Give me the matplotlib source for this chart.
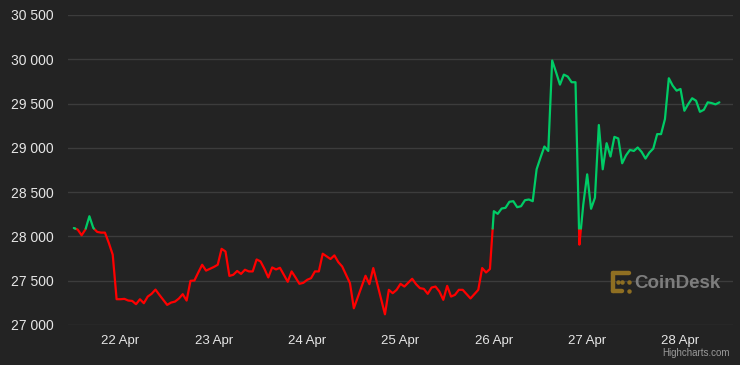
import numpy as np
import matplotlib
matplotlib.use("Agg")
import matplotlib.pyplot as plt

# ---- data (hours since 21 Apr 12:00, BTC price in USD) ----
hours = [0, 1, 2, 3, 4, 5, 6, 7, 8, 9, 10, 11, 12, 13, 14, 15, 16, 17, 18, 19,
         20, 21, 22, 24, 25, 26, 27, 28, 29, 30, 31, 32, 33, 34, 35, 36, 37, 38,
         39, 40, 41, 42, 43, 44, 45, 46, 47, 48, 49, 50, 51, 52, 53, 54, 55, 56,
         57, 58, 59, 60, 61, 62, 63, 64, 65, 66, 67, 68, 69, 70, 71, 72, 75, 76,
         77, 80, 81, 82, 83, 84, 85, 87, 88, 89, 90, 91, 92, 93, 94, 95, 96, 97,
         98, 99, 100, 101, 102, 104, 105, 106, 107, 108, 109, 110, 111, 112, 113,
         114, 115, 116, 117, 118, 119, 120, 121, 122, 123, 124, 125, 126, 127,
         128, 129, 130, 131, 132, 133, 134, 135, 136, 137, 138, 139, 140, 141,
         142, 143, 144, 145, 146, 147, 148, 149, 150, 151, 152, 153, 154, 155,
         156, 157, 158, 159, 160, 161, 162, 163, 164, 165, 166]
prices = [28095, 28077, 28013, 28080, 28228, 28096, 28051, 28043, 28043, 27926,
          27794, 27291, 27291, 27295, 27276, 27272, 27235, 27291, 27246, 27321,
          27352, 27400, 27340, 27227, 27253, 27264, 27298, 27348, 27276, 27499,
          27502, 27593, 27680, 27614, 27635, 27655, 27680, 27860, 27830, 27554,
          27567, 27610, 27577, 27624, 27605, 27605, 27740, 27718, 27635, 27537,
          27650, 27627, 27646, 27567, 27488, 27605, 27537, 27465, 27476, 27510,
          27529, 27605, 27605, 27805, 27775, 27745, 27786, 27710, 27661, 27567,
          27473, 27189, 27556, 27461, 27643, 27121, 27397, 27359, 27397, 27465,
          27434, 27522, 27461, 27416, 27408, 27352, 27423, 27434, 27378, 27284,
          27442, 27321, 27340, 27397, 27397, 27348, 27300, 27397, 27643, 27593,
          27632, 28285, 28255, 28315, 28323, 28391, 28398, 28330, 28341, 28409,
          28417, 28398, 28758, 28890, 29015, 28965, 29986, 29854, 29714, 29827,
          29805, 29741, 29741, 27907, 28361, 28701, 28312, 28437, 29258, 28758,
          29053, 28902, 29124, 29106, 28826, 28916, 28977, 28965, 29004, 28954,
          28879, 28947, 28992, 29155, 29155, 29325, 29786, 29702, 29646, 29665,
          29419, 29495, 29560, 29532, 29407, 29430, 29514, 29506, 29491, 29514]
threshold = 28088
day_labels = ["22 Apr", "23 Apr", "24 Apr", "25 Apr", "26 Apr", "27 Apr", "28 Apr"]
day_hours = [12, 36, 60, 84, 108, 132, 156]
y_ticks = [27000, 27500, 28000, 28500, 29000, 29500, 30000, 30500]

# ---- split line at threshold ----
t = np.array(hours, float)
v = np.array(prices, float)
tt, vv = [t[0]], [v[0]]
for i in range(1, len(t)):
    a, b = v[i - 1], v[i]
    if (a - threshold) * (b - threshold) < 0:
        f = (threshold - a) / (b - a)
        tt.append(t[i - 1] + f * (t[i] - t[i - 1]))
        vv.append(threshold)
    tt.append(t[i]); vv.append(v[i])
tt = np.array(tt); vv = np.array(vv)
up = np.where(vv >= threshold, vv, np.nan)
dn = np.where(vv <= threshold, vv, np.nan)

BG = "#232323"
W, H = 740, 365
fig = plt.figure(figsize=(W / 100, H / 100), dpi=100, facecolor=BG)
ax = fig.add_axes([68 / W, 1 - 325 / H, (733 - 68) / W, (325 - 15) / H])
ax.set_facecolor(BG)

for s in ax.spines.values():
    s.set_visible(False)

ax.plot(tt, dn, color="#ff0000", lw=1.6, solid_joinstyle="round", solid_capstyle="round", zorder=3)
ax.plot(tt, up, color="#00cc66", lw=1.6, solid_joinstyle="round", solid_capstyle="round", zorder=3)

ax.set_ylim(27000, 30500)
ax.set_xlim(-1.5, 169.5)
ax.set_yticks(y_ticks)
ax.set_yticklabels([f"{y:,}".replace(",", " ") for y in y_ticks])
ax.set_xticks(day_hours)
ax.set_xticklabels(day_labels)
ax.grid(axis="y", color="#3c3c3c", lw=1.0, zorder=1)
ax.grid(axis="x", visible=False)
ax.tick_params(axis="y", length=0, pad=10, labelsize=10, labelcolor="#e6e6e6")
ax.tick_params(axis="x", length=0, pad=7, labelsize=9.5, labelcolor="#e6e6e6")
for lab in ax.get_xticklabels() + ax.get_yticklabels():
    lab.set_family("Liberation Sans")

# CoinDesk watermark
gold = "#8f6f22"
lx = lambda px: px / W
ly = lambda py: 1 - py / H
fig.lines.append(plt.Line2D([lx(613), lx(629)], [ly(273), ly(273)], transform=fig.transFigure, color=gold, lw=3.2, solid_capstyle="round"))
fig.lines.append(plt.Line2D([lx(613), lx(613)], [ly(273), ly(291)], transform=fig.transFigure, color=gold, lw=3.2, solid_capstyle="round"))
fig.lines.append(plt.Line2D([lx(613), lx(622)], [ly(291), ly(291)], transform=fig.transFigure, color=gold, lw=3.2, solid_capstyle="round"))
for (px, py) in [(618, 282), (629, 282), (629, 291), (622, 282)]:
    fig.lines.append(plt.Line2D([lx(px)], [ly(py)], transform=fig.transFigure, marker="o", ms=2.2, color=gold, lw=0))
fig.text(lx(634), ly(283), "CoinDesk", color="#7d7d7d", fontsize=13.5, fontweight="bold",
         family="Liberation Sans", va="center", ha="left")
fig.text(lx(730), ly(353), "Highcharts.com", color="#9a9a9a", fontsize=7,
         family="Liberation Sans", va="center", ha="right")

fig.savefig("out.png", dpi=100, facecolor=BG)
